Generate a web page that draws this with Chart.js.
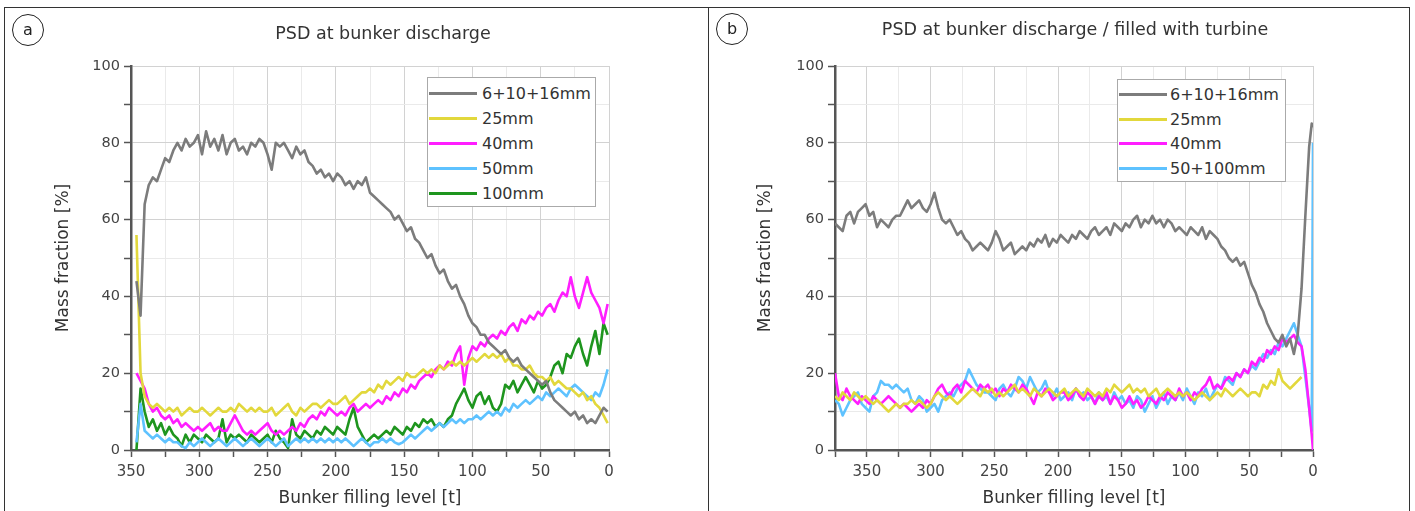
<!DOCTYPE html>
<html><head><meta charset="utf-8">
<script src="https://cdn.jsdelivr.net/npm/chart.js@4.4.1/dist/chart.umd.min.js"></script>
<style>
html,body{margin:0;padding:0;background:#fff;}
body{width:1415px;height:511px;position:relative;overflow:hidden;font-family:'DejaVu Sans',sans-serif;color:#333;}
.frame{position:absolute;left:4px;top:7px;width:1406px;height:530px;border:1.5px solid #333;box-sizing:border-box;}
.sep{position:absolute;left:708px;top:7px;width:0;height:530px;border-left:1.5px solid #333;}
canvas{position:absolute;top:0;}
.ttl{position:absolute;font-size:17.5px;line-height:17.5px;white-space:nowrap;transform:translateX(-50%);color:#333;}
.circ{position:absolute;width:32px;height:32px;border:1.4px solid #222;border-radius:50%;box-sizing:border-box;font-size:16px;line-height:29px;text-align:center;color:#222;}
.leg{position:absolute;border:1px solid #aaa;background:#fff;box-sizing:border-box;}
.row{position:absolute;height:20px;display:flex;align-items:center;font-size:16px;white-space:nowrap;color:#333;}
.sw{height:3px;}
</style></head><body>
<div class="frame"></div>
<div class="sep"></div>
<canvas id="ca" width="708" height="511" style="left:0px"></canvas>
<canvas id="cb" width="707" height="511" style="left:708px"></canvas>
<div class="circ" style="left:12px;top:14px">a</div>
<div class="circ" style="left:716px;top:13px">b</div>
<div class="ttl" style="left:383px;top:25px">PSD at bunker discharge</div>
<div class="ttl" style="left:1075px;top:21px">PSD at bunker discharge / filled with turbine</div>
<div id="lega" class="leg" style="left:427px;top:77px;width:169px;height:130px"></div>
<div id="legb" class="leg" style="left:1117px;top:79px;width:169px;height:103px"></div>
<script>
// ---------- Panel a data ----------
const levelA = [346,343,340,337,334,331,328,325,322,319,
316,313,310,307,304,301,298,295,292,289,
286,283,280,277,274,271,268,265,262,259,
256,253,250,247,244,241,238,235,232,229,
226,223,220,217,214,211,208,205,202,199,
196,193,190,187,184,181,178,175,172,169,
166,163,160,157,154,151,148,145,142,139,
136,133,130,127,124,121,118,115,112,109,
106,103,100,97,94,91,88,85,82,79,
76,73,70,67,64,61,58,55,52,49,
46,43,40,37,34,31,28,25,22,19,
16,13,10,7,4,1];
const grayA = [44,35,64,69,71,70,73,76,75,78,
80,78,81,79,80,82,77,83,79,81,
78,82,77,80,81,78,79,77,80,79,
81,80,77,73,80,79,80,78,76,79,
77,78,75,74,72,73,71,72,70,72,
71,69,70,68,70,69,71,67,66,65,
64,63,62,60,61,59,57,58,55,54,
52,50,51,48,46,47,44,42,43,40,
38,35,33,32,30,30,28,27,26,25,
26,24,23,24,22,21,20,19,18,17,
18,15,13,12,11,10,9,10,8,9,
7,8,7,9,11,10];
const yellowA = [56,20,14,12,11,12,11,10,11,10,
11,9,10,11,10,10,11,10,9,10,
11,10,10,11,10,12,11,10,11,10,
11,10,10,11,9,10,11,12,10,9,
11,10,11,12,12,11,12,13,12,12,
13,14,12,13,14,15,15,16,15,17,
16,18,17,18,19,18,20,19,19,20,
21,20,21,20,22,21,22,23,22,23,
22,23,24,23,24,25,24,25,24,25,
23,24,22,22,21,21,22,20,19,19,
18,19,17,18,17,16,16,15,14,15,
13,14,12,11,9,7];
const magentaA = [20,18,16,12,10,11,9,8,9,7,
8,6,7,6,5,6,5,6,7,5,
6,5,5,7,9,7,5,4,5,4,
5,6,7,5,4,5,4,5,6,5,
7,6,8,9,8,10,9,11,10,9,
10,9,11,12,10,11,12,11,12,13,
12,14,13,15,14,16,15,17,16,18,
19,20,19,21,22,21,23,22,25,27,
17,24,27,26,28,27,29,30,29,31,
30,32,33,31,34,33,35,34,36,35,
37,38,36,39,41,40,45,40,37,41,
45,41,39,37,33,38];
const blueA = [2,12,5,4,3,4,3,2,3,2,
2,1,0.5,2,1,2,3,2,1,2,
3,2,1,2,3,2,1,2,3,2,
1,2,3,2,1,2,3,1,2,3,
2,3,2,3,2,3,2,3,2,3,
2,3,2,1,2,3,2,1,2,2,
3,2,3,2,1.5,2,3,4,3,4,
5,6,5,6,7,6,7,8,7,8,
7,8,8,9,8,9,10,9,10,9,
11,10,12,11,12,13,12,13,14,13,
15,14,15,16,15,14,16,17,16,15,
14,13,15,14,17,21];
const greenA = [0,16,10,6,8,5,7,4,6,4,
3,1,4,2,4,3,2,4,3,2,
3,8,2,4,3,4,3,2,4,3,
2,3,4,2,5,3,2,0.5,8,4,
3,5,4,3,5,4,6,5,4,6,
5,4,8,11,6,4,2,3,4,3,
4,5,4,6,5,4,6,5,7,6,
8,7,8,6,7,6,8,9,12,14,
16,13,11,14,15,12,14,11,10,12,
17,16,18,15,17,19,17,15,18,16,
17,19,22,23,20,25,24,27,29,25,
22,27,31,25,33,30];

// ---------- Panel b data ----------
const levelB = [375,372,369,366,363,360,357,354,351,348,
345,342,339,336,333,330,327,324,321,318,
315,312,309,306,303,300,297,294,291,288,
285,282,279,276,273,270,267,264,261,258,
255,252,249,246,243,240,237,234,231,228,
225,222,219,216,213,210,207,204,201,198,
195,192,189,186,183,180,177,174,171,168,
165,162,159,156,153,150,147,144,141,138,
135,132,129,126,123,120,117,114,111,108,
105,102,99,96,93,90,87,84,81,78,
75,72,69,66,63,60,57,54,51,48,
45,42,39,36,33,30,27,24,21,18,
15,12,9,6,3,1,0];
const grayB = [59,58,57,61,62,59,62,63,64,61,
62,58,60,59,58,60,61,61,63,65,
63,64,65,63,62,64,67,63,60,59,
60,58,56,57,55,54,52,53,54,53,
52,54,57,55,52,53,54,51,52,53,
52,54,53,55,54,56,53,55,54,56,
55,54,56,55,57,56,55,57,58,56,
57,58,56,59,58,57,59,58,60,61,
58,60,59,61,59,60,58,60,59,57,
58,57,56,58,57,56,58,55,57,56,
55,53,52,50,49,50,48,49,46,43,
41,38,36,33,31,29,28,30,27,29,
25,30,42,61,79,85,84];
const yellowB = [14,13,15,14,13,15,14,13,14,13,
12,13,12,11,10,11,12,11,12,12,
13,12,13,12,11,12,14,15,14,13,
14,13,12,13,14,15,16,15,14,16,
15,16,14,15,14,15,16,17,15,16,
15,14,16,15,14,15,16,15,14,15,
16,14,15,16,15,14,16,15,14,15,
14,16,15,17,16,15,16,17,15,16,
15,16,14,15,16,14,15,16,15,14,
15,14,15,14,13,14,15,14,13,14,
15,14,16,15,14,15,16,15,14,15,
15,14,17,16,18,17,21,18,17,16,
17,18,19,null,null,null,null];
const magentaB = [20,14,13,16,14,13,12,14,13,12,
14,13,12,13,14,13,12,11,12,11,
10,11,12,11,13,12,14,16,17,15,
14,16,17,15,18,17,16,15,17,16,
17,15,16,14,16,15,17,16,15,17,
16,14,12,15,14,16,15,13,14,15,
15,13,14,16,14,13,15,14,12,14,
13,15,12,14,13,11,12,14,12,13,
11,12,14,13,12,14,13,15,14,13,
16,14,15,13,15,14,16,17,19,16,
17,16,18,19,18,20,19,21,20,23,
22,24,23,26,25,27,26,29,28,29,
30,28,27,21,11,4,0];
const blueB = [13,12,9,11,13,14,15,12,11,10,
14,15,18,17,17,16,17,16,15,16,
13,12,14,13,10,11,12,10,13,14,
15,14,16,17,18,21,19,17,16,15,
15,14,13,16,17,15,14,16,19,18,
16,19,17,15,16,18,15,14,16,13,
14,15,13,16,14,15,13,14,12,15,
13,14,12,15,13,14,12,13,11,14,
13,10,12,14,11,13,15,12,14,13,
15,13,16,14,12,15,14,16,13,15,
17,16,19,18,17,20,19,21,20,22,
21,23,25,24,26,25,28,27,29,31,
33,30,27,19,11,5,80];

const namesA = ['6+10+16mm','25mm','40mm','50mm','100mm'];
const colorsA = ['#7c7c7c','#e2d83c','#ff1eff','#5ec2ff','#1e951e'];
const namesB = ['6+10+16mm','25mm','40mm','50+100mm'];
const colorsB = ['#7c7c7c','#e2d83c','#ff1eff','#5ec2ff'];
const yTickValues = [0,20,40,60,80,100];

Chart.defaults.font.family = "'DejaVu Sans', sans-serif";

function makeChart(id, levels, seriesList, names, colors, xMax, yWidth, padRight, yTitlePad) {
  const datasets = seriesList.map((vals, k) => ({
    label: names[k],
    data: levels.map((x, i) => ({x: x, y: vals[i]})),
    borderColor: colors[k],
    borderWidth: 2.6,
    borderJoinStyle: 'round',
    pointRadius: 0,
    tension: 0,
    fill: false,
    spanGaps: false
  }));
  return new Chart(document.getElementById(id), {
    type: 'line',
    data: {datasets},
    options: {
      responsive: false, animation: false, devicePixelRatio: 1, events: [],
      layout: {padding: {left: 0, top: 66, right: padRight, bottom: 0}},
      plugins: {legend: {display: false}, tooltip: {enabled: false}, title: {display: false}},
      scales: {
        x: {
          type: 'linear', reverse: true, min: 0, max: xMax,
          ticks: {stepSize: 25, autoSkip: false, maxRotation: 0, minRotation: 0,
            callback: v => (v % 50 === 0 ? String(v) : ''), font: {size: 15}, color: '#444', padding: 6},
          grid: {color: c => (c.tick && c.tick.value % 50 === 0 ? '#d2d2d2' : '#eaeaea'),
            lineWidth: 1, tickLength: 7, tickColor: '#555', tickWidth: 1.5},
          border: {display: true, color: '#555', width: 2.5},
          title: {display: true, text: 'Bunker filling level [t]', font: {size: 17}, color: '#333', padding: {top: 0, bottom: 2}},
          afterFit: s => { s.height = 61; }
        },
        y: {
          type: 'linear', min: 0, max: 100,
          ticks: {stepSize: 10, autoSkip: false,
            callback: v => (yTickValues.includes(v) ? String(v) : ''), font: {size: 14.5}, color: '#444', padding: 4},
          grid: {color: c => (c.tick && c.tick.value % 20 === 0 ? '#d2d2d2' : '#eaeaea'),
            lineWidth: 1, tickLength: 7, tickColor: '#555', tickWidth: 1.5},
          border: {display: true, color: '#555', width: 2.5},
          title: {display: true, text: 'Mass fraction [%]', font: {size: 17}, color: '#333', padding: {top: yTitlePad, bottom: 0}},
          afterFit: s => { s.width = yWidth; }
        }
      }
    }
  });
}

makeChart('ca', levelA, [grayA, yellowA, magentaA, blueA, greenA], namesA, colorsA, 350, 131, 99, 53);
makeChart('cb', levelB, [grayB, yellowB, magentaB, blueB], namesB, colorsB, 375, 127, 102, 47);

function makeLegend(id, names, colors, boxTop, centers, swLeft, swWidth, gap) {
  const box = document.getElementById(id);
  names.forEach((n, k) => {
    const row = document.createElement('div');
    row.className = 'row';
    row.style.top = (centers[k] - 10 - boxTop - 1) + 'px';
    row.style.left = swLeft + 'px';
    const sw = document.createElement('div');
    sw.className = 'sw';
    sw.style.width = swWidth + 'px';
    sw.style.marginRight = gap + 'px';
    sw.style.background = colors[k];
    const tx = document.createElement('span');
    tx.textContent = n;
    row.appendChild(sw); row.appendChild(tx);
    box.appendChild(row);
  });
}
makeLegend('lega', namesA, colorsA, 77, [93,118,143,168,193], 1, 48, 5);
makeLegend('legb', namesB, colorsB, 79, [94,119,143,168], 1, 48, 3);
</script>
</body></html>
